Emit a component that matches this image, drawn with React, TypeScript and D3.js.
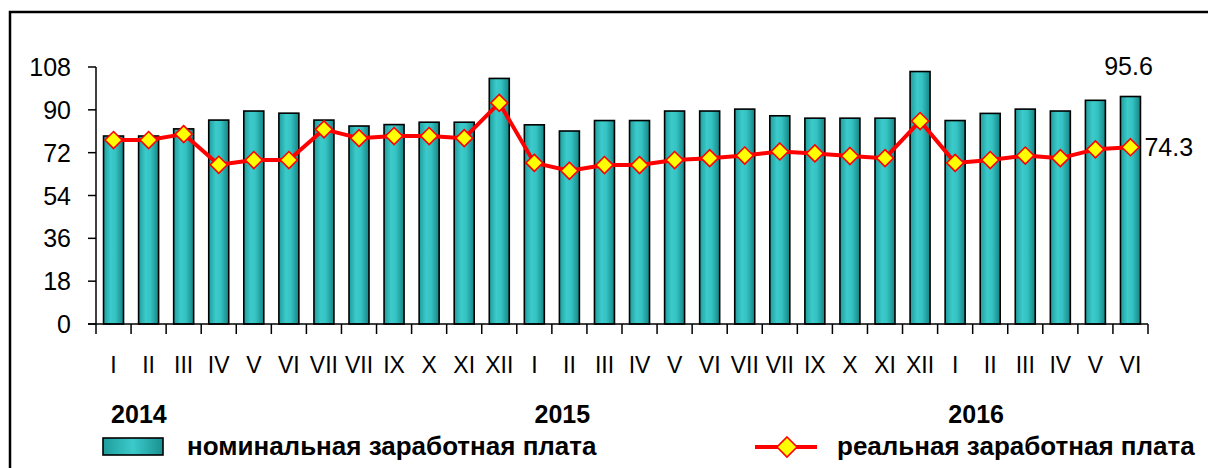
import React from "react";
import * as d3 from "d3";

const months = ["I","II","III","IV","V","VI","VII","VII","IX","X","XI","XII","I","II","III","IV","V","VI","VII","VII","IX","X","XI","XII","I","II","III","IV","V","VI"];
const nominal = [79.0,79.0,82.0,85.7,89.5,88.6,85.7,83.2,83.8,84.8,84.8,103.2,83.7,81.1,85.5,85.5,89.5,89.5,90.3,87.5,86.5,86.5,86.5,106.1,85.5,88.5,90.3,89.5,94.0,95.6];
const real = [77.3,77.3,79.8,66.9,68.9,68.9,81.8,78.1,79.0,79.0,78.1,92.9,67.7,64.4,66.8,66.8,68.9,69.7,70.8,72.5,71.7,70.6,69.7,85.3,67.7,68.9,70.8,69.7,73.4,74.3];
const yTicks = [0,18,36,54,72,90,108];
const years = [
  { label: "2014", at: 0.43, anchor: "start" },
  { label: "2015", at: 13.3, anchor: "middle" },
  { label: "2016", at: 25.1, anchor: "middle" },
];
const legendNominal = "номинальная заработная плата";
const legendReal = "реальная заработная плата";

const W = 1208, H = 468;
const FONT = "'Liberation Sans', Arial, sans-serif";

export default function App() {
  const idx = months.map((_, i) => i);
  const x = d3.scaleBand<number>().domain(idx).range([96, 1148]).paddingInner(0.43).paddingOuter(0.215);
  const y = d3.scaleLinear().domain([0, 108]).range([324, 67]);
  const step = x.step();
  const x0 = 96;
  const cx = (i: number) => (x(i) as number) + x.bandwidth() / 2;
  const line = d3.line<number>().x((_, i) => cx(i)).y(d => y(d));
  const diamond = (r: number) => `M0,${-r}L${r},0L0,${r}L${-r},0Z`;
  const last = idx.length - 1;

  return (
    <svg width={W} height={H} style={{ position: "fixed", left: 0, top: 0, background: "#fff" }} fontFamily={FONT}>
      <defs>
        <linearGradient id="barg" x1="0" x2="1" y1="0" y2="0">
          <stop offset="0" stopColor="#1f9c9c" />
          <stop offset="0.35" stopColor="#3ccaca" />
          <stop offset="0.6" stopColor="#34c2c2" />
          <stop offset="1" stopColor="#168484" />
        </linearGradient>
        <linearGradient id="legg" x1="0" x2="1" y1="0" y2="0">
          <stop offset="0" stopColor="#1f9c9c" />
          <stop offset="0.5" stopColor="#3ccaca" />
          <stop offset="1" stopColor="#1a9090" />
        </linearGradient>
      </defs>
      <rect x={10} y={12} width={W} height={H} fill="none" stroke="#000" strokeWidth={2.5} />

      {/* bars */}
      {nominal.map((v, i) => (
        <rect key={i} x={x(i)} y={y(v)} width={x.bandwidth()} height={y(0) - y(v)}
          fill="url(#barg)" stroke="#000" strokeWidth={1.6} />
      ))}

      {/* y axis */}
      <line x1={x0} x2={x0} y1={y(108)} y2={y(0)} stroke="#000" strokeWidth={1.5} />
      {yTicks.map(t => (
        <g key={t}>
          <line x1={88} x2={x0} y1={y(t)} y2={y(t)} stroke="#000" strokeWidth={1.5} />
          <text x={71} y={y(t)} dy="0.36em" textAnchor="end" fontSize={25} fill="#000">{t}</text>
        </g>
      ))}
      {/* x axis */}
      <line x1={88} x2={x0 + step * months.length} y1={y(0)} y2={y(0)} stroke="#000" strokeWidth={1.5} />
      {d3.range(months.length + 1).map(i => (
        <line key={i} x1={x0 + i * step} x2={x0 + i * step} y1={y(0)} y2={y(0) + 10} stroke="#000" strokeWidth={1.5} />
      ))}
      {months.map((m, i) => (
        <text key={i} x={cx(i)} y={373} textAnchor="middle" fontSize={23} fill="#000">{m}</text>
      ))}
      {years.map(yr => (
        <text key={yr.label} x={x0 + yr.at * step} y={423}
          textAnchor={yr.anchor} fontSize={25} fontWeight="bold" fill="#000">{yr.label}</text>
      ))}

      {/* line */}
      <path d={line(real) || ""} fill="none" stroke="#ff0000" strokeWidth={4} strokeLinejoin="round" />
      {real.map((v, i) => (
        <path key={i} d={diamond(8.5)} transform={`translate(${cx(i)},${y(v)})`} fill="#ffff00" stroke="#ff0000" strokeWidth={1.6} />
      ))}

      {/* value labels */}
      <text x={cx(last) - 2} y={75} textAnchor="middle" fontSize={25} fill="#000">{nominal[last]}</text>
      <text x={cx(last) + 14} y={y(real[last])} dy="0.36em" textAnchor="start" fontSize={25} fill="#000">{real[last]}</text>

      {/* legend */}
      <rect x={103} y={438} width={60} height={17} fill="url(#legg)" stroke="#000" strokeWidth={1.6} />
      <text x={187} y={455} fontSize={26} fontWeight="bold" fill="#000">{legendNominal}</text>
      <line x1={755} x2={817} y1={447} y2={447} stroke="#ff0000" strokeWidth={4} />
      <path d={diamond(10)} transform="translate(787,447)" fill="#ffff00" stroke="#ff0000" strokeWidth={1.6} />
      <text x={837} y={455} fontSize={26} fontWeight="bold" fill="#000">{legendReal}</text>
    </svg>
  );
}
